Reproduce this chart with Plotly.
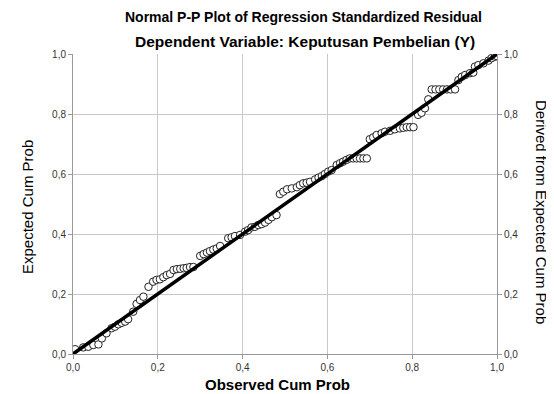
import plotly.graph_objects as go

# Observed cumulative probability (x) and expected cumulative probability (y)
observed = [0.005, 0.024, 0.036, 0.048, 0.06, 0.068, 0.079, 0.091, 0.099, 0.107, 0.115, 0.123, 0.13,
            0.142, 0.15, 0.158, 0.166, 0.178, 0.189, 0.197, 0.205, 0.213, 0.221, 0.229, 0.237, 0.245,
            0.253, 0.261, 0.268, 0.276, 0.284, 0.3, 0.308, 0.316, 0.323, 0.331, 0.339, 0.347, 0.366,
            0.374, 0.382, 0.394, 0.406, 0.413, 0.421, 0.429, 0.437, 0.445, 0.453, 0.461, 0.469, 0.48,
            0.488, 0.496, 0.505, 0.516, 0.528, 0.535, 0.543, 0.551, 0.559, 0.571, 0.579, 0.587, 0.594,
            0.602, 0.61, 0.622, 0.63, 0.637, 0.645, 0.653, 0.661, 0.669, 0.677, 0.685, 0.693, 0.7,
            0.708, 0.716, 0.728, 0.736, 0.748, 0.759, 0.771, 0.779, 0.787, 0.795, 0.803, 0.814, 0.822,
            0.83, 0.838, 0.846, 0.855, 0.864, 0.873, 0.882, 0.891, 0.901, 0.909, 0.917, 0.925, 0.936,
            0.944, 0.948, 0.956, 0.968, 0.98, 0.987, 0.995, 1.0]
expected = [0.016, 0.022, 0.024, 0.03, 0.032, 0.052, 0.069, 0.086, 0.091, 0.099, 0.104, 0.108, 0.116,
            0.141, 0.167, 0.18, 0.191, 0.224, 0.241, 0.247, 0.249, 0.256, 0.263, 0.267, 0.28, 0.283,
            0.284, 0.286, 0.287, 0.29, 0.29, 0.327, 0.333, 0.338, 0.343, 0.348, 0.352, 0.36, 0.386,
            0.389, 0.393, 0.397, 0.408, 0.413, 0.422, 0.424, 0.43, 0.433, 0.438, 0.447, 0.456, 0.463,
            0.533, 0.541, 0.549, 0.552, 0.556, 0.563, 0.569, 0.571, 0.574, 0.582, 0.588, 0.593, 0.6,
            0.608, 0.613, 0.63, 0.636, 0.641, 0.647, 0.652, 0.652, 0.652, 0.652, 0.652, 0.652, 0.716,
            0.722, 0.73, 0.736, 0.741, 0.744, 0.749, 0.752, 0.754, 0.756, 0.756, 0.756, 0.797, 0.804,
            0.819, 0.849, 0.882, 0.882, 0.882, 0.882, 0.882, 0.882, 0.882, 0.913, 0.924, 0.93, 0.936,
            0.938, 0.958, 0.963, 0.969, 0.978, 0.986, 0.991, 0.993]
diag = [0.0, 1.0]
tick_vals = [0.0, 0.2, 0.4, 0.6, 0.8, 1.0]

title1 = "Normal P-P Plot of Regression Standardized Residual"
title2 = "Dependent Variable: Keputusan Pembelian (Y)"
x_title = "Observed Cum Prob"
y_title = "Expected Cum Prob"
y2_title = "Derived from Expected Cum Prob"

# page has an 8px body margin, so the figure is shifted by 8px
OFF = 8
W, H = 554 - OFF, 394 - OFF
L, R, T, B = 73 - OFF, 57, 54 - OFF, 40
PW, PH = W - L - R, H - T - B


def px_x(x):  # page pixel -> paper x
    return (x - OFF - L) / PW


def px_y(y):  # page pixel -> paper y
    return (H - B - (y - OFF)) / PH


fig = go.Figure()
fig.add_trace(go.Scatter(x=observed, y=expected, mode="markers",
                         marker=dict(symbol="circle", size=7.5, color="white",
                                     line=dict(color="#222", width=1)),
                         showlegend=False, hoverinfo="skip"))
fig.add_trace(go.Scatter(x=diag, y=diag, mode="lines",
                         line=dict(color="black", width=3.5),
                         showlegend=False, hoverinfo="skip"))
fig.add_trace(go.Scatter(x=diag, y=diag, yaxis="y2", mode="lines",
                         line=dict(color="rgba(0,0,0,0)"), showlegend=False, hoverinfo="skip"))

tickfont = dict(family="Liberation Sans, Arial", size=10, color="#333")
axis_common = dict(range=[0, 1], tickvals=tick_vals, tickformat=".1f", tickfont=tickfont,
                   showline=True, linecolor="#999", linewidth=1, ticks="outside",
                   ticklen=4, tickcolor="#999", zeroline=False, fixedrange=True)

fig.update_layout(
    width=W, height=H, separators=",.",
    margin=dict(l=L, r=R, t=T, b=B),
    paper_bgcolor="white", plot_bgcolor="white",
    xaxis=dict(**axis_common, showgrid=True, gridcolor="#c8c8c8", gridwidth=1),
    yaxis=dict(**axis_common, showgrid=True, gridcolor="#c8c8c8", gridwidth=1),
    yaxis2=dict(**axis_common, overlaying="y", side="right", showgrid=False),
    annotations=[
        dict(text="<b>" + title1 + "</b>", xref="paper", yref="paper", x=px_x(303), y=px_y(17),
             xanchor="center", yanchor="middle", showarrow=False,
             font=dict(family="Liberation Sans, Arial", size=14, color="black")),
        dict(text="<b>" + title2 + "</b>", xref="paper", yref="paper", x=px_x(305), y=px_y(41),
             xanchor="center", yanchor="middle", showarrow=False,
             font=dict(family="Liberation Sans, Arial", size=15.5, color="black")),
        dict(text="<b>" + x_title + "</b>", xref="paper", yref="paper", x=px_x(277), y=px_y(384),
             xanchor="center", yanchor="middle", showarrow=False,
             font=dict(family="Liberation Sans, Arial", size=15, color="black")),
        dict(text=y_title, xref="paper", yref="paper", x=px_x(27), y=px_y(207),
             xanchor="center", yanchor="middle", showarrow=False, textangle=-90,
             font=dict(family="Liberation Sans, Arial", size=15, color="black")),
        dict(text=y2_title, xref="paper", yref="paper", x=px_x(541), y=px_y(212),
             xanchor="center", yanchor="middle", showarrow=False, textangle=90,
             font=dict(family="Liberation Sans, Arial", size=15, color="black")),
    ],
)

fig.write_html("out.html")
